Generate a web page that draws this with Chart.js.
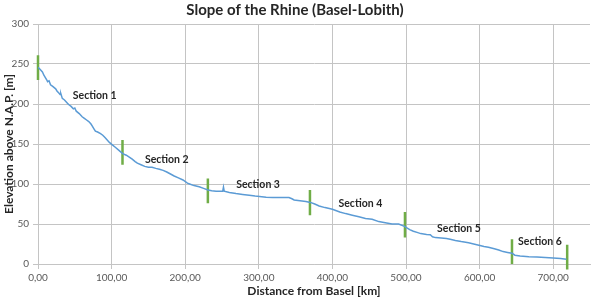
<!DOCTYPE html>
<html>
<head>
<meta charset="utf-8">
<script src="https://cdn.jsdelivr.net/npm/chart.js@4.4.0/dist/chart.umd.min.js"></script>
<style>
body { margin: 0; background: #fff; }
</style>
</head>
<body>
<canvas id="rhineChart" width="594" height="303"></canvas>
<script>
/******************* Slope of the Rhine ***********************/
// river profile
const distanceKm = [0, 3, 6, 8, 10, 12, 13, 15, 17, 20, 24, 26, 28, 30, 31, 33, 36, 40, 42, 45, 48, 50, 52, 56, 60, 63, 66, 69, 72, 74, 76, 78, 81, 85, 88, 91, 94, 97, 101, 105, 110, 115, 120, 125, 128, 132, 135, 140, 145, 150, 155, 160, 165, 170, 175, 180, 185, 190, 197, 203, 206, 212, 219, 225, 231, 236, 242, 248, 251, 252, 253, 260, 269, 278, 287, 295, 301, 310, 319, 330, 341, 345, 348, 356, 364, 370, 376, 382, 390, 400, 410, 418, 427, 436, 445, 454, 463, 470, 481, 490, 498, 505, 510, 515, 520, 528, 533, 536, 540, 548, 555, 560, 567, 575, 585, 592, 599, 606, 612, 620, 626, 632, 638, 644, 648, 655, 667, 678, 689, 700, 710, 718];
const elevation = [246, 243, 240, 236, 233, 230, 228, 229, 224, 222, 219, 216, 214, 212, 213, 207, 205, 201, 199, 197, 194, 195, 191, 188, 184, 182, 180, 178, 175, 172, 169, 166, 165, 163, 161, 158, 155, 152, 149, 146, 142, 138, 136, 133, 131, 128, 126, 124, 122, 121, 121, 119.5, 118.5, 117, 115, 112.5, 110, 108, 105, 101, 100, 98, 96.5, 94.5, 92.5, 91.5, 91, 91, 91, 96, 91, 89.5, 88, 87, 86, 85, 84.5, 83.5, 83, 83, 83, 81.5, 80, 79, 78, 77, 75, 72.5, 70.5, 68.5, 65, 63, 61, 59, 57, 56, 53, 52, 50, 50, 47, 43, 41, 39.5, 38, 37, 36.5, 34, 33, 32.5, 32, 31, 29.5, 28, 26.5, 25, 23.5, 22, 21, 19, 17.5, 15.5, 14.5, 13.5, 11, 10, 9, 8.7, 8.2, 7.5, 6.8, 5.8];

// green section boundaries
const markerKm = [0, 114.8, 230.8, 369.5, 498.6, 644, 719];
const markerTop = [261, 155, 107, 92.5, 65, 31, 24];
const markerBottom = [230, 124, 76, 61, 33, 0, -7];

// section captions
const sectionNames = ['Section 1', 'Section 2', 'Section 3', 'Section 4', 'Section 5', 'Section 6'];
const sectionKm = [77, 175, 299, 438, 572, 682];
const sectionElev = [210, 131, 98.7, 75.8, 44, 27.9];

const xTicks = [0, 100, 200, 300, 400, 500, 600, 700];
const yTicks = [0, 50, 100, 150, 200, 250, 300];

const FONT = 'Lato';
const GRID = '#c4c4c4';

const profile = distanceKm.map((km, i) => ({x: km, y: elevation[i]}));

const datasets = [{
    label: 'Elevation',
    data: profile,
    borderColor: '#5b9bd5',
    backgroundColor: '#5b9bd5',
    borderWidth: 1.5,
    pointRadius: 0,
    tension: 0,
    showLine: true
}];

markerKm.forEach((km, i) => {
    datasets.push({
        label: 'Boundary ' + (i + 1),
        data: [{x: km, y: markerTop[i]}, {x: km, y: markerBottom[i]}],
        borderColor: '#70ad47',
        backgroundColor: '#70ad47',
        borderWidth: 2.5,
        pointRadius: 0,
        showLine: true,
        clip: false
    });
});

const sectionLabels = {
    id: 'sectionLabels',
    afterDatasetsDraw(chart) {
        const ctx = chart.ctx;
        const xs = chart.scales.x;
        const ys = chart.scales.y;
        ctx.save();
        ctx.font = 'bold 10.5px ' + FONT;
        ctx.fillStyle = '#262626';
        ctx.textAlign = 'center';
        ctx.textBaseline = 'middle';
        sectionNames.forEach((name, i) => {
            ctx.fillText(name, xs.getPixelForValue(sectionKm[i]), ys.getPixelForValue(sectionElev[i]));
        });
        ctx.restore();
    }
};

const config = {
    type: 'scatter',
    data: {datasets: datasets},
    options: {
        responsive: false,
        animation: false,
        layout: {padding: {left: 0, right: 4, top: 0, bottom: 0}},
        plugins: {
            legend: {display: false},
            tooltip: {enabled: false},
            title: {
                display: true,
                text: 'Slope of the Rhine (Basel-Lobith)',
                color: '#262626',
                font: {family: FONT, size: 15, weight: 'bold'},
                padding: {top: 1.5, bottom: 4.5}
            }
        },
        scales: {
            x: {
                type: 'linear',
                min: 0,
                max: 750,
                afterFit: (scale) => { scale.height = 39; },
                grid: {color: GRID, tickLength: 5},
                border: {color: GRID},
                ticks: {
                    stepSize: 100,
                    includeBounds: false,
                    padding: 3,
                    color: '#595959',
                    font: {family: FONT, size: 10},
                    maxRotation: 0,
                    callback: (v) => xTicks.includes(v) ? v.toFixed(2).replace('.', ',') : ''
                },
                title: {
                    display: true,
                    text: 'Distance from Basel [km]',
                    color: '#262626',
                    font: {family: FONT, size: 12, weight: 'bold'},
                    padding: {top: 2, bottom: 5}
                }
            },
            y: {
                min: 0,
                max: 300,
                afterFit: (scale) => { scale.width = 38; },
                grid: {color: GRID, tickLength: 5},
                border: {color: GRID},
                ticks: {
                    stepSize: 50,
                    padding: 4,
                    color: '#595959',
                    font: {family: FONT, size: 10},
                    callback: (v) => yTicks.includes(v) ? v : ''
                },
                title: {
                    display: true,
                    text: 'Elevation above N.A.P. [m]',
                    color: '#262626',
                    font: {family: FONT, size: 12, weight: 'bold'},
                    padding: {top: 2, bottom: 2}
                }
            }
        }
    },
    plugins: [sectionLabels]
};

const rhineChart = new Chart(document.getElementById('rhineChart'), config);
</script>
</body>
</html>
